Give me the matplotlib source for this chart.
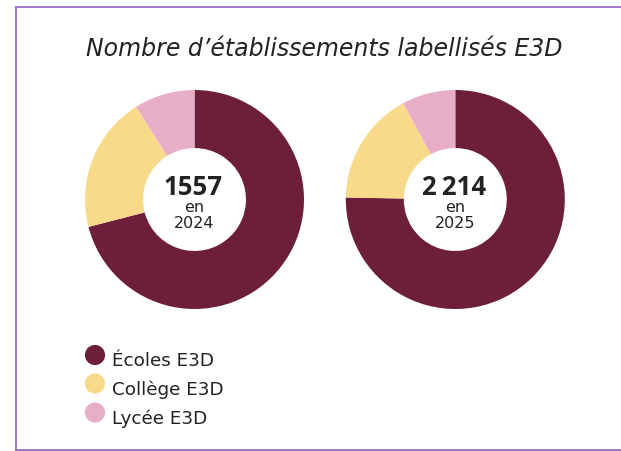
import matplotlib
matplotlib.use("Agg")
import matplotlib.pyplot as plt
from matplotlib.lines import Line2D

plt.rcParams['font.family'] = ['DejaVu Sans']

title = "Nombre d’établissements labellisés E3D"
categories = ["Écoles E3D", "Collège E3D", "Lycée E3D"]
colors = ["#6D1E3B", "#F8DA8A", "#E8AEC8"]
years = ["2024", "2025"]
totals = ["1557", "2\u2009214"]
values_2024 = [1105, 313, 139]
values_2025 = [1667, 372, 175]
series = [values_2024, values_2025]

W, H = 621, 451
fig = plt.figure(figsize=(W / 100, H / 100), dpi=100)
fig.patch.set_facecolor("white")
txt = "#222222"

# frame lines (left, top, bottom)
border = "#9B6BC3"
fig.add_artist(Line2D([15.5 / W, 15.5 / W], [1 - 7 / H, 1 - 449.5 / H], color=border, lw=1.3, transform=fig.transFigure))
fig.add_artist(Line2D([15.5 / W, 1.0], [1 - 7 / H, 1 - 7 / H], color=border, lw=1.3, transform=fig.transFigure))
fig.add_artist(Line2D([15.5 / W, 1.0], [1 - 449.5 / H, 1 - 449.5 / H], color=border, lw=1.3, transform=fig.transFigure))

fig.text(324 / W, 1 - 55.5 / H, title, ha="center", va="baseline", fontsize=17,
         style="italic", color=txt)

centers = [(194.5, 199.5), (455.3, 199.5)]
R = 109.5
for (cx, cy), vals, tot, yr in zip(centers, series, totals, years):
    ax = fig.add_axes([(cx - R) / W, 1 - (cy + R) / H, 2 * R / W, 2 * R / H])
    ax.pie(vals, colors=colors, startangle=90, counterclock=False, radius=1,
           wedgeprops=dict(width=0.53, linewidth=0))
    ax.set_xlim(-1, 1)
    ax.set_ylim(-1, 1)
    ax.set_aspect("equal")
    ax.axis("off")
    ax.text(-0.01, 0.041, tot, ha="center", va="baseline", fontsize=18.5,
            fontweight="bold", family=["Open Sans", "DejaVu Sans"], color=txt)
    ax.text(0, -0.111, "en", ha="center", va="baseline", fontsize=11.5, color=txt)
    ax.text(0, -0.263, yr, ha="center", va="baseline", fontsize=11.5, color=txt)

# legend
lax = fig.add_axes([0, 0, 1, 1])
lax.set_xlim(0, W)
lax.set_ylim(H, 0)
lax.axis("off")
circle_y = [355, 383.5, 412.5]
text_y = [366, 395, 424]
for cat, col, y, ty in zip(categories, colors, circle_y, text_y):
    lax.scatter([95], [y], s=210, color=col, edgecolor="none")
    lax.text(112, ty, cat, ha="left", va="baseline", fontsize=13.2, color=txt)

fig.savefig("out.png", dpi=100)
